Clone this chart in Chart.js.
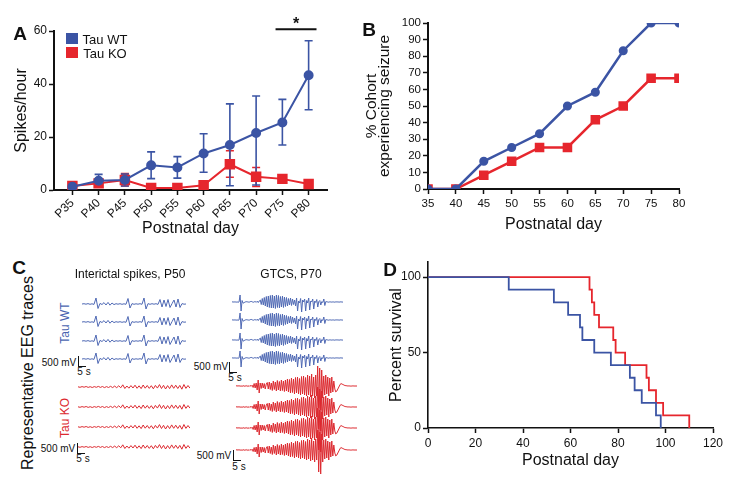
<!DOCTYPE html>
<html>
<head>
<meta charset="utf-8">
<script src="https://cdn.jsdelivr.net/npm/chart.js@4.4.0/dist/chart.umd.min.js"></script>
<style>
  body { margin: 0; background: #fff; font-family: "Liberation Sans", Arial, sans-serif; color: #111; }
  #fig { position: relative; width: 730px; height: 485px; overflow: hidden; }
  #fig canvas { position: absolute; }
  .lbl { position: absolute; white-space: nowrap; transform: translate(-50%, -50%); line-height: 1; }
  .panel { font-weight: bold; font-size: 19px; }
  .rot { transform: translate(-50%, -50%) rotate(-90deg); }
  .sq { position: absolute; width: 12px; height: 11px; }
  .bar { position: absolute; border-left: 1.3px solid #111; border-bottom: 1.3px solid #111; }
</style>
</head>
<body>
<div id="fig">
  <canvas id="chartA" width="340" height="240" style="left:0;top:0"></canvas>
  <canvas id="chartB" width="390" height="240" style="left:340px;top:0"></canvas>
  <canvas id="chartD" width="360" height="249" style="left:370px;top:236px"></canvas>

  <div class="lbl panel" style="left:20px;top:33px">A</div>
  <div class="lbl panel" style="left:369px;top:29px">B</div>
  <div class="lbl panel" style="left:19px;top:267px">C</div>
  <div class="lbl panel" style="left:390px;top:269px">D</div>

  <!-- legend A -->
  <div class="sq" style="left:66px;top:33px;background:#3b54a4"></div>
  <div class="sq" style="left:66px;top:47px;background:#e6262d"></div>
  <div class="lbl" style="left:105px;top:39px;font-size:13px">Tau WT</div>
  <div class="lbl" style="left:105px;top:53px;font-size:13px">Tau KO</div>

  <!-- panel C text -->
  <div class="lbl rot" style="left:28px;top:373px;font-size:16px">Representative EEG traces</div>
  <div class="lbl rot" style="left:65px;top:323px;font-size:12px;color:#4a64b0">Tau WT</div>
  <div class="lbl rot" style="left:65px;top:418px;font-size:12px;color:#dc2a30">Tau KO</div>
  <div class="lbl" style="left:130px;top:274px;font-size:12px">Interictal spikes, P50</div>
  <div class="lbl" style="left:291px;top:274px;font-size:12px">GTCS, P70</div>

  <div class="lbl" style="left:59px;top:363px;font-size:10px">500 mV</div>
  <div class="bar" style="left:78px;top:356px;width:7px;height:10px"></div>
  <div class="lbl" style="left:84px;top:372px;font-size:10px">5 s</div>

  <div class="lbl" style="left:58px;top:449px;font-size:10px">500 mV</div>
  <div class="bar" style="left:77px;top:443px;width:7px;height:10px"></div>
  <div class="lbl" style="left:83px;top:459px;font-size:10px">5 s</div>

  <div class="lbl" style="left:211px;top:367px;font-size:10px">500 mV</div>
  <div class="bar" style="left:229px;top:362px;width:7px;height:10px"></div>
  <div class="lbl" style="left:235px;top:378px;font-size:10px">5 s</div>

  <div class="lbl" style="left:214px;top:456px;font-size:10px">500 mV</div>
  <div class="bar" style="left:233px;top:450px;width:7px;height:10px"></div>
  <div class="lbl" style="left:239px;top:467px;font-size:10px">5 s</div>
</div>

<script>
// ---- Panel A: interictal spikes per hour ----
const days = [35, 40, 45, 50, 55, 60, 65, 70, 75, 80];
const wtSpikes   = [1.2, 3.5, 3.8, 9.3, 8.5, 13.8, 17, 21.5, 25.5, 43.3];
const wtSpikesHi = [1.8, 5.9, 6, 14.4, 12.6, 21.2, 32.5, 35.5, 34.2, 56.3];
const wtSpikesLo = [0.8, 1.5, 1.5, 4.3, 4.5, 6.7, 1.6, 1.9, 17, 30.3];
const koSpikes   = [1.5, 2.5, 3.8, 0.8, 0.8, 1.8, 9.7, 5, 4.2, 2.3];
const koSpikesHi = [2, 3.5, 6.2, 1.2, 1.2, 2.5, 14.8, 8.5, 5.6, 3.3];
const koSpikesLo = [1, 1.5, 1.5, 0.4, 0.4, 1.2, 4.8, 1.3, 3, 1.4];
const sigRange = [73.7, 81.5];   // days covered by the significance bar
const sigLevel = 60.7;

// ---- Panel B: cumulative % of cohort with seizure ----
const seizureDays = [35, 40, 45, 50, 55, 60, 65, 70, 75, 80];
const wtSeizure = [0, 0, 16.7, 25, 33.3, 50, 58.3, 83.3, 100, 100];
const koSeizure = [0, 0, 8.3, 16.7, 25, 25, 41.7, 50, 66.7, 66.7];

// ---- Panel D: survival ----
const wtSurvDays = [0, 34, 53, 59, 64, 65, 70, 77, 85, 87, 90, 96, 98];
const wtSurv     = [100, 91.7, 83.3, 75, 66.7, 58.3, 50, 41.7, 33.3, 25, 16.7, 8.3, 0];
const koSurvDays = [0, 68, 69, 70, 72, 78, 79, 83, 92, 93, 96, 99, 110];
const koSurv     = [100, 91.7, 83.3, 75, 66.7, 58.3, 50, 41.7, 33.3, 25, 16.7, 8.3, 0];
const survTicks = [0, 50, 100];

// ---- Panel C: EEG traces (~1 value per 1-2 px) ----
const wtInterictal = [0, 0.3, -0.2, 0.4, -0.3, 0.2, -0.4, 6, -4.5, 0.6, -0.5, 1.4, -1, 1.6, -1.2, 1, -0.6, 0.3, -0.2, 0.3,
  -0.3, 0.2, -0.3, 5.5, -4, 0.4, -0.3, 0.2, -0.2, 0.3, -0.3, 6, -5, 0.4, -0.3, 0.3, -0.2, 0.3, -0.4, 4.5,
  -3, 4, -2.5, 4.5, -3.5, 0.3, 4, -3, 5, -3.5, 0.4, -0.2, 0];
const koInterictal = [0.2, -0.3, 0.4, -0.2, 0.5, -0.4, 0.3, -0.5, 0.4, -0.3, 0.6, -0.4, 0.5, -0.6, 0.4, -0.5, 0.7, -0.6, 0.9, -0.7,
  1.2, -0.8, 2.2, -1.5, 1, -1.2, 1.4, -1, 1.8, -1.3, 1.2, -1.6, 2, -1.2, 1.5, -1.4, 1.3, -1.8, 1.6, -1.1,
  2.4, -1.5, 1.7, -2, 1.4, -1.6, 2.1, -1.3, 1.8, -1.5, 1.6, -2.2, 2.5, -1.4, 1.5, -1.2];
const wtGtcs = [0, 0.2, -0.2, 0.3, -0.3, 0.2, -0.3, 0.1,
  7, -9, 1.5,
  -1.2, -0.6, 0, 0.3, 0.2, 0, -0.2, 0.3, 0.6, 0.2, -0.3, 0.2, 0.5, -0.4, 0.8, -0.6, 1,
  2, -2.5, 3.5, -3, 4.5, -4, 5.5, -5, 6, -5.5, 6.5, -6, 7, -6, 6, -6.5, 7, -5.5, 6.5, -6,
  5.5, -5, 6, -5.5, 5, -4.5, 4.5, -4, 3.5, -3, 4, -3.5, 3, -2.5,
  2, -4, 4, -9, 1, -1, 3.5, -10, 2, 0, 3, -9, 1.5, -1, 4, -8, 1, 0, 3, -7, 1, -0.5, 2.5, -5, 0.5, 1.5, -3, 0.5, -0.5,
  3, -3.5, 0.5,
  0.2, 0, -0.2, 0.2, 0, -0.1, 0.1, 0, -0.2, 0.2, 0, 0.1, -0.1, 0, 0.2, -0.1, 0];
const koGtcs = [0, 0.3, -0.2, 0.4, -0.3, 0.2, -0.4, 0.3, 0, -0.3, 0.5, -0.4, 0.3, -0.5, 0.6, -0.4, 0.8,
  -1.5, 2.5, -2, 3, -4, 6, -7, 3, -2.5, 3, -2, 2.5, -3, 2,
  3.5, -3, 4, -3.5, 3, -4.5, 5, -3.5, 4, -5, 5.5, -4, 4.5, -5, 6, -4.5, 5, -5.5, 6, -5,
  7, -6, 6.5, -7, 8, -6.5, 7, -8, 8.5, -7, 9, -8, 7.5, -9, 9.5, -8, 10, -9, 8.5, -10,
  11, -9, 10, -11, 12, -10, 9, -12, 11, -10, 20, -22, 18, -24, 16,
  -12, 10, -9, 11, -8, 9, -10, 8, -7, 9, -6, 5,
  -3, -6, -5, -3, -1, 1, 2.5, 2, 1.5, 1,
  0.5, 0.3, 0.2, 0, 0.1, 0, -0.1, 0, 0.1, 0, 0, 0, 0];

const BLUE = '#3b54a4';
const RED = '#e6262d';
const EEG_BLUE = '#4f69b4';
const EEG_RED = '#dc2a30';
const INK = '#111';

Chart.defaults.font.family = '"Liberation Sans", Arial, sans-serif';
Chart.defaults.color = INK;
Chart.defaults.animation = false;

const axisGrid = { drawOnChartArea: false, tickLength: 5, tickColor: INK, tickWidth: 1.5 };
const axisBorder = { color: INK, width: 2 };

// Error bars for panel A
const errorBars = {
  id: 'errorBars',
  beforeDatasetsDraw(chart) {
    const { ctx, scales: { x, y } } = chart;
    for (let d = chart.data.datasets.length - 1; d >= 0; d--) {
      const ds = chart.data.datasets[d];
      ctx.save();
      ctx.strokeStyle = ds.borderColor;
      ctx.lineWidth = 1.6;
      ds.data.forEach((pt, i) => {
        const px = x.getPixelForValue(pt.x);
        const top = y.getPixelForValue(ds.errHi[i]);
        const bot = y.getPixelForValue(ds.errLo[i]);
        ctx.beginPath();
        ctx.moveTo(px, top); ctx.lineTo(px, bot);
        ctx.moveTo(px - 4, top); ctx.lineTo(px + 4, top);
        ctx.moveTo(px - 4, bot); ctx.lineTo(px + 4, bot);
        ctx.stroke();
      });
      ctx.restore();
    }
  }
};

// Significance bar with asterisk
const sigBar = {
  id: 'sigBar',
  afterDraw(chart) {
    const { ctx, scales: { x, y } } = chart;
    const x0 = x.getPixelForValue(sigRange[0]);
    const x1 = x.getPixelForValue(sigRange[1]);
    const py = y.getPixelForValue(sigLevel);
    ctx.save();
    ctx.strokeStyle = INK;
    ctx.lineWidth = 2;
    ctx.beginPath();
    ctx.moveTo(x0, py); ctx.lineTo(x1, py);
    ctx.stroke();
    ctx.fillStyle = INK;
    ctx.font = 'bold 16px "Liberation Sans", Arial, sans-serif';
    ctx.textAlign = 'center';
    ctx.textBaseline = 'middle';
    ctx.fillText('*', (x0 + x1) / 2, py - 5);
    ctx.restore();
  }
};

// Panel A
new Chart(document.getElementById('chartA'), {
  type: 'line',
  data: {
    datasets: [
      { label: 'Tau WT', data: days.map((d, i) => ({ x: d, y: wtSpikes[i] })),
        errHi: wtSpikesHi, errLo: wtSpikesLo,
        borderColor: BLUE, backgroundColor: BLUE, borderWidth: 2,
        pointStyle: 'circle', pointRadius: 4 },
      { label: 'Tau KO', data: days.map((d, i) => ({ x: d, y: koSpikes[i] })),
        errHi: koSpikesHi, errLo: koSpikesLo,
        borderColor: RED, backgroundColor: RED, borderWidth: 2,
        pointStyle: 'rect', pointRadius: 6 }
    ]
  },
  options: {
    responsive: false,
    events: [],
    layout: { padding: { left: 0, top: 31, right: 13, bottom: 0 } },
    plugins: { legend: { display: false }, tooltip: { enabled: false } },
    scales: {
      x: {
        type: 'linear', min: 31.5, max: 83.5,
        afterBuildTicks: s => { s.ticks = days.map(v => ({ value: v })); },
        afterFit: s => { s.height = 50; },
        ticks: { minRotation: 45, maxRotation: 45, autoSkip: false, padding: 1, font: { size: 12 }, callback: v => 'P' + v },
        grid: axisGrid, border: axisBorder,
        title: { display: true, text: 'Postnatal day', font: { size: 16 }, padding: { top: 0, bottom: 2 } }
      },
      y: {
        min: 0, max: 60,
        afterFit: s => { s.width = 54; },
        ticks: { stepSize: 20, padding: 2, font: { size: 12 } },
        grid: axisGrid, border: axisBorder,
        title: { display: true, text: 'Spikes/hour', font: { size: 16 }, padding: { top: 12, bottom: 0 } }
      }
    }
  },
  plugins: [errorBars, sigBar]
});

// Panel B
new Chart(document.getElementById('chartB'), {
  type: 'line',
  data: {
    datasets: [
      { data: seizureDays.map((d, i) => ({ x: d, y: wtSeizure[i] })),
        borderColor: BLUE, backgroundColor: BLUE, borderWidth: 2.5,
        pointStyle: 'circle', pointRadius: 3.3 },
      { data: seizureDays.map((d, i) => ({ x: d, y: koSeizure[i] })),
        borderColor: RED, backgroundColor: RED, borderWidth: 2.5,
        pointStyle: 'rect', pointRadius: 5 }
    ]
  },
  options: {
    responsive: false,
    events: [],
    layout: { padding: { left: 0, top: 23, right: 51, bottom: 0 } },
    plugins: { legend: { display: false }, tooltip: { enabled: false } },
    scales: {
      x: {
        type: 'linear', min: 35, max: 80,
        afterFit: s => { s.height = 51; },
        ticks: { stepSize: 5, padding: 3, maxRotation: 0, autoSkip: false, font: { size: 11.5 } },
        grid: axisGrid, border: axisBorder,
        title: { display: true, text: 'Postnatal day', font: { size: 16 }, padding: { top: 0, bottom: 6 } }
      },
      y: {
        min: 0, max: 100,
        afterFit: s => { s.width = 88; },
        ticks: { stepSize: 10, padding: 2, autoSkip: false, font: { size: 11.5 } },
        grid: axisGrid, border: axisBorder,
        title: { display: true, text: ['% Cohort', 'experiencing seizure'],
                 font: { size: 15.5, lineHeight: 0.85 }, padding: { top: 25, bottom: 0 } }
      }
    }
  }
});

// Panel D
new Chart(document.getElementById('chartD'), {
  type: 'line',
  data: {
    datasets: [
      { data: wtSurvDays.map((d, i) => ({ x: d, y: wtSurv[i] })),
        borderColor: BLUE, borderWidth: 1.8, pointRadius: 0, stepped: true },
      { data: koSurvDays.map((d, i) => ({ x: d, y: koSurv[i] })),
        borderColor: RED, borderWidth: 1.8, pointRadius: 0, stepped: true }
    ]
  },
  options: {
    responsive: false,
    events: [],
    layout: { padding: { left: 0, top: 26, right: 17, bottom: 0 } },
    plugins: { legend: { display: false }, tooltip: { enabled: false } },
    scales: {
      x: {
        type: 'linear', min: 0, max: 120,
        afterFit: s => { s.height = 57; },
        ticks: { stepSize: 20, padding: 3, maxRotation: 0, autoSkip: false, font: { size: 12 } },
        grid: axisGrid, border: { color: INK, width: 1.6 },
        title: { display: true, text: 'Postnatal day', font: { size: 16 }, padding: { top: 0, bottom: 15 } }
      },
      y: {
        min: 0, max: 110,
        afterBuildTicks: s => { s.ticks = survTicks.map(v => ({ value: v })); },
        afterFit: s => { s.width = 58; },
        ticks: { padding: 2, font: { size: 12 } },
        grid: axisGrid, border: { color: INK, width: 1.6 },
        title: { display: true, text: 'Percent survival', font: { size: 16 }, padding: { top: 17, bottom: 0 } }
      }
    }
  }
});

// Panel C: one small chart per EEG trace
const traceGroups = [
  { values: wtInterictal, color: EEG_BLUE, left: 82,  width: 104, height: 16, range: 8,  centers: [304, 322, 341, 359] },
  { values: koInterictal, color: EEG_RED,  left: 78,  width: 112, height: 16, range: 8,  centers: [387, 407, 427, 447] },
  { values: wtGtcs,       color: EEG_BLUE, left: 232, width: 111, height: 24, range: 12, centers: [302, 320, 340, 358] },
  { values: koGtcs,       color: EEG_RED,  left: 236, width: 121, height: 60, range: 30, centers: [386, 407, 428, 450] }
];

const fig = document.getElementById('fig');
traceGroups.forEach(g => {
  g.centers.forEach(c => {
    const cv = document.createElement('canvas');
    cv.width = g.width;
    cv.height = g.height;
    cv.style.left = g.left + 'px';
    cv.style.top = (c - g.height / 2) + 'px';
    fig.appendChild(cv);
    new Chart(cv, {
      type: 'line',
      data: {
        labels: g.values.map((v, i) => i),
        datasets: [{ data: g.values, borderColor: g.color, borderWidth: 1, pointRadius: 0, tension: 0 }]
      },
      options: {
        responsive: false,
        events: [],
        layout: { padding: 0 },
        plugins: { legend: { display: false }, tooltip: { enabled: false } },
        scales: {
          x: { display: false },
          y: { display: false, min: -g.range, max: g.range }
        }
      }
    });
  });
});
</script>
</body>
</html>
